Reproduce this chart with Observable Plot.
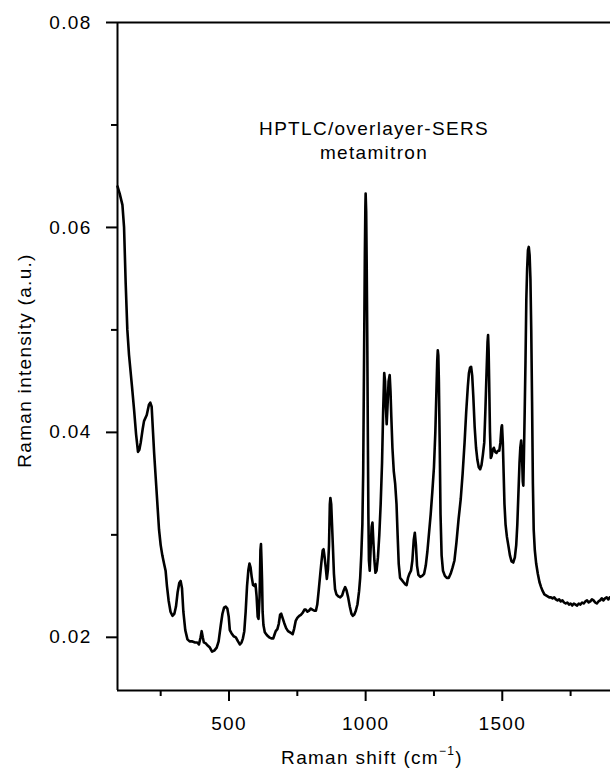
<!DOCTYPE html>
<html><head><meta charset="utf-8">
<script src="https://cdn.jsdelivr.net/npm/d3@7"></script>
<script src="https://cdn.jsdelivr.net/npm/@observablehq/plot@0.6"></script>
<style>body{margin:0;background:#fff} svg{display:block}</style>
</head><body><div id="chart"></div>
<script>
const shift = [92,100,110,116,122,128,134,145,153,160,167,172,177,184,189,199,207,212,217,222,226,232,238,244,250,256,263,268,273,279,286,293,300,306,312,318,323,328,333,340,348,356,366,376,384,390,396,400,404,408,415,422,430,438,446,455,462,470,476,482,488,494,499,503,509,517,525,533,540,546,551,556,561,566,571,575,579,583,588,593,597,601,605,608,612,615,617,619,621,623,626,631,639,647,655,662,667,671,677,682,687,691,696,702,709,716,722,728,733,738,744,750,757,763,770,776,781,787,793,799,805,812,818,823,828,834,838,843,846,850,854,858,862,866,869,871,874,877,880,884,888,893,900,907,914,920,925,930,936,942,948,953,958,964,970,976,980,984,988,991,993,995,997,999,1000,1002,1004,1006,1008,1010,1012,1015,1018,1022,1025,1028,1032,1036,1040,1045,1050,1055,1060,1064,1068,1071,1074,1077,1080,1084,1088,1091,1094,1098,1103,1108,1113,1117,1121,1126,1132,1138,1144,1150,1155,1160,1166,1171,1176,1180,1184,1188,1193,1200,1207,1214,1220,1226,1232,1238,1244,1250,1255,1259,1262,1264,1266,1268,1271,1274,1278,1283,1290,1297,1304,1311,1318,1325,1332,1340,1348,1355,1362,1368,1374,1378,1382,1386,1390,1394,1399,1404,1409,1414,1419,1424,1429,1434,1438,1442,1446,1448,1450,1452,1455,1458,1461,1465,1469,1474,1479,1484,1489,1493,1497,1499,1502,1505,1508,1512,1517,1522,1528,1534,1540,1546,1551,1555,1559,1563,1566,1569,1572,1575,1577,1579,1582,1585,1588,1591,1594,1597,1600,1603,1606,1609,1612,1615,1619,1624,1630,1636,1642,1648,1654,1660,1666,1672,1678,1684,1690,1696,1702,1708,1714,1720,1726,1732,1738,1744,1750,1756,1762,1768,1774,1780,1786,1792,1798,1804,1810,1816,1822,1828,1834,1840,1846,1852,1858,1864,1870,1876,1882,1888,1893];
const intensity = [0.0640,0.0633,0.0622,0.0600,0.0545,0.0500,0.0476,0.0445,0.0421,0.0398,0.0381,0.0383,0.0390,0.0403,0.0411,0.0417,0.0427,0.0429,0.0425,0.0400,0.0380,0.0355,0.0330,0.0305,0.0290,0.0280,0.0271,0.0265,0.0250,0.0236,0.0225,0.0221,0.0223,0.0230,0.0244,0.0253,0.0255,0.0248,0.0225,0.0207,0.0198,0.0196,0.0196,0.0195,0.0195,0.0193,0.0200,0.0206,0.0200,0.0195,0.0194,0.0192,0.0190,0.0186,0.0187,0.0190,0.0196,0.0212,0.0223,0.0229,0.0230,0.0228,0.0220,0.0207,0.0204,0.0201,0.0200,0.0196,0.0193,0.0195,0.0199,0.0206,0.0225,0.0250,0.0266,0.0272,0.0268,0.0259,0.0251,0.0250,0.0252,0.0240,0.0220,0.0218,0.0240,0.0285,0.0291,0.0275,0.0255,0.0225,0.0212,0.0205,0.0202,0.0200,0.0199,0.0199,0.0203,0.0206,0.0208,0.0213,0.0222,0.0223,0.0219,0.0214,0.0209,0.0206,0.0205,0.0204,0.0203,0.0208,0.0216,0.0219,0.0221,0.0222,0.0224,0.0227,0.0227,0.0225,0.0226,0.0228,0.0227,0.0226,0.0226,0.0232,0.0245,0.0262,0.0273,0.0285,0.0286,0.0278,0.0268,0.0257,0.0266,0.0290,0.0330,0.0336,0.0330,0.0310,0.0290,0.0262,0.0247,0.0242,0.0240,0.0239,0.0241,0.0246,0.0249,0.0246,0.0239,0.0230,0.0223,0.0221,0.0222,0.0226,0.0232,0.0245,0.0258,0.0280,0.0310,0.0360,0.0430,0.0500,0.0570,0.0620,0.0633,0.0615,0.0560,0.0490,0.0400,0.0320,0.0275,0.0265,0.0285,0.0308,0.0312,0.0295,0.0275,0.0263,0.0265,0.0278,0.0300,0.0330,0.0370,0.0420,0.0458,0.0450,0.0425,0.0408,0.0425,0.0450,0.0456,0.0440,0.0415,0.0385,0.0362,0.0350,0.0330,0.0300,0.0272,0.0258,0.0256,0.0254,0.0252,0.0251,0.0258,0.0262,0.0265,0.0275,0.0295,0.0302,0.0290,0.0270,0.0261,0.0259,0.0260,0.0262,0.0270,0.0284,0.0302,0.0320,0.0342,0.0366,0.0400,0.0440,0.0470,0.0480,0.0475,0.0450,0.0390,0.0320,0.0280,0.0265,0.0260,0.0258,0.0258,0.0262,0.0268,0.0275,0.0292,0.0315,0.0335,0.0360,0.0390,0.0420,0.0445,0.0458,0.0463,0.0464,0.0455,0.0435,0.0405,0.0385,0.0373,0.0366,0.0364,0.0368,0.0378,0.0390,0.0420,0.0455,0.0488,0.0495,0.0480,0.0450,0.0400,0.0375,0.0377,0.0383,0.0385,0.0381,0.0380,0.0382,0.0382,0.0390,0.0405,0.0407,0.0390,0.0360,0.0330,0.0310,0.0298,0.0290,0.0280,0.0274,0.0273,0.0278,0.0290,0.0310,0.0340,0.0370,0.0385,0.0392,0.0380,0.0352,0.0348,0.0375,0.0420,0.0470,0.0530,0.0560,0.0578,0.0581,0.0573,0.0550,0.0500,0.0430,0.0350,0.0305,0.0285,0.0272,0.0262,0.0254,0.0249,0.0245,0.0242,0.0241,0.0240,0.0239,0.0239,0.0238,0.0239,0.0237,0.0236,0.0237,0.0235,0.0236,0.0234,0.0233,0.0234,0.0232,0.0233,0.0231,0.0233,0.0232,0.0231,0.0233,0.0232,0.0234,0.0233,0.0235,0.0236,0.0234,0.0235,0.0237,0.0236,0.0234,0.0233,0.0235,0.0236,0.0238,0.0236,0.0238,0.0239,0.0237,0.0239];
const yMajorTicks = [0.02, 0.04, 0.06, 0.08];
const yMinorTicks = [0.03, 0.05, 0.07];
const xMajorTicks = [500, 1000, 1500];
const xMinorTicks = [250, 750, 1250, 1750];
const annotationLines = ["HPTLC/overlayer-SERS", "metamitron"];
const yLabel = "Raman intensity (a.u.)";
const xLabelMain = "Raman shift";
const xLabelUnit = "(cm";
const xLabelSup = "−1";

const data = shift.map((x, i) => ({x, y: intensity[i]}));
const xDomain = [92, 1896];
const yDomain = [0.01481, 0.08];
const FONT = "'Liberation Sans', Arial, Helvetica, sans-serif";

const plot = Plot.plot({
  width: 610, height: 770,
  marginLeft: 117, marginRight: 0, marginTop: 22, marginBottom: 80,
  x: {domain: xDomain},
  y: {domain: yDomain},
  style: {fontFamily: FONT, fontSize: "19px", letterSpacing: "1.3px", color: "#000", background: "#fff", overflow: "visible"},
  marks: [
    Plot.axisY({ticks: yMajorTicks, tickSize: 11, tickPadding: 15, tickFormat: d => d.toFixed(2), strokeWidth: 2, label: null, fontSize: 19}),
    Plot.axisY({ticks: yMinorTicks, tickSize: 6, tickFormat: () => "", strokeWidth: 2, label: null}),
    Plot.axisX({ticks: xMajorTicks, tickSize: 11, tickPadding: 15, tickFormat: d => String(d), strokeWidth: 2, label: null, fontSize: 19}),
    Plot.axisX({ticks: xMinorTicks, tickSize: 6, tickFormat: () => "", strokeWidth: 2, label: null}),
    Plot.ruleX([xDomain[0]], {strokeWidth: 2}),
    Plot.ruleY([yDomain[0]], {strokeWidth: 2}),
    Plot.ruleY([yDomain[1]], {strokeWidth: 2}),
    Plot.line(data, {x: "x", y: "y", stroke: "#000", strokeWidth: 2.6, strokeLinejoin: "round"}),
    Plot.text([annotationLines.join("\n")], {frameAnchor: "top", dx: 10, dy: 95, fontSize: 19, lineHeight: 1.28, fill: "#000"}),
    Plot.text([yLabel], {frameAnchor: "left", textAnchor: "middle", dx: -93, dy: 4, rotate: -90, fontSize: 19, fill: "#000"})
  ]
});

const svg = d3.select(plot);
const xl = svg.append("text")
  .attr("x", 372).attr("y", 764)
  .attr("text-anchor", "middle")
  .attr("font-family", FONT)
  .style("letter-spacing", "1.3px")
  .attr("fill", "#000");
xl.append("tspan").attr("font-size", 19).text(xLabelMain + " ");
xl.append("tspan").attr("font-size", 19).text(xLabelUnit);
xl.append("tspan").attr("font-size", 12).attr("dy", -9).text(xLabelSup);
xl.append("tspan").attr("font-size", 19).attr("dy", 9).text(")");

document.getElementById("chart").appendChild(plot);
</script>
</body></html>
